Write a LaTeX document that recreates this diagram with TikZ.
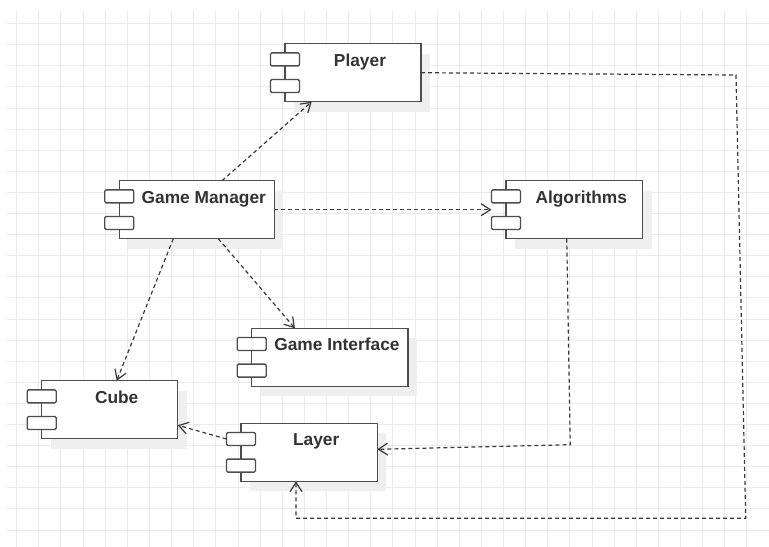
\documentclass[tikz,border=0pt]{standalone}
\usepackage{fontspec}
\newfontfamily\lblfont{Liberation Sans}
\usetikzlibrary{arrows.meta,calc}

\definecolor{gridc}{HTML}{EBEBEB}
\definecolor{shadec}{HTML}{EFEFEF}
\definecolor{edgec}{HTML}{4D4D4D}
\definecolor{inkc}{HTML}{333333}
\definecolor{depc}{HTML}{3A3A3A}

\tikzset{
  gridline/.style={draw=gridc, line width=0.75pt},
  compshade/.style={fill=shadec},
  compbox/.style={draw=edgec, fill=white, line width=1.1pt, rectangle,
    minimum height=43.5pt, inner sep=0pt, outer sep=0pt},
  pinbox/.style={draw=edgec, fill=white, line width=1pt, rectangle, rounded corners=1pt,
    minimum width=21.75pt, minimum height=9.75pt, inner sep=0pt, outer sep=0pt},
  complabel/.style={text=inkc, font=\lblfont\bfseries\fontsize{13}{15}\selectfont, inner sep=0pt},
  dep/.style={draw=depc, line width=0.9pt, dash pattern=on 3pt off 2.25pt,
    -{Straight Barb[length=7pt,width=9pt,line width=0.9pt]}},
}

% A UML component: shadow, body, two port tabs on the left edge and a bold label.
% #1 name, #2 left x, #3 top y, #4 width, #5 label (all in px)
\newcommand\umlcomp[5]{%
  \fill[compshade] (#2+9,#3+10) rectangle ++(#4,58);
  \node[compbox, minimum width=#4*0.75pt, anchor=north west] (#1) at (#2,#3) {};
  \node[pinbox] (#1-pa) at ($(#1.north west)+(0,15.7)$) {};
  \node[pinbox] (#1-pb) at ($(#1.north west)+(0,42.3)$) {};
  \node[complabel, anchor=base] (#1-lbl) at ($(#1.north west)+({7+#4/2},22.5)$) {#5};
}

\begin{document}
\begin{tikzpicture}[x=0.75pt, y=-0.75pt]
  \useasboundingbox (0,0) rectangle (769,547);
  \fill[white] (0,0) rectangle (769,547);

  % background grid
  \foreach \i in {0,...,33}
    \draw[gridline] ({16.7+22.13*\i},10) -- ({16.7+22.13*\i},547);
  \foreach \j in {0,...,24}
    \draw[gridline] (7,{23.6+21.1*\j}) -- (769,{23.6+21.1*\j});

  % components
  \umlcomp{player}{285}{43.7}{136}{Player}
  \umlcomp{gm}{119.3}{180.7}{155}{Game Manager}
  \umlcomp{alg}{506}{180.7}{136.5}{Algorithms}
  \umlcomp{gi}{251.7}{328.3}{156.5}{Game Interface}
  \umlcomp{cube}{41.7}{380.7}{136}{Cube}
  \umlcomp{layer}{241}{423.3}{136.3}{Layer}

  % bend points of the routed dependencies
  \coordinate (alg-bend) at ($(alg.south)+(-4,206)$);
  \coordinate (pl-bend1) at (736,75);
  \coordinate (pl-bend2) at (745.7,518.3);
  \coordinate (pl-bend3) at (296,518.3);

  % dependencies
  \draw[dep] ($(gm.north)+(25.2,0)$) -- ($(player.south)+(-41.3,0)$);
  \draw[dep] (gm.east) -- ($(alg.west)+(-14.5,0)$);
  \draw[dep] ($(gm.south)+(21.5,0)$) -- ($(gi.north)+(-35,0)$);
  \draw[dep] ($(gm.south)+(-23.5,0)$) -- ($(cube.north)+(7,0)$);
  \draw[dep] (layer-pa.west) -- ($(cube.east)+(0,15.5)$);
  \draw[dep] ($(alg.south)+(-7.5,0)$) -- (alg-bend) -- ($(layer.east)+(0,-3)$);
  \draw[dep] (player.east) -- (pl-bend1) -- (pl-bend2) -- (pl-bend3) -- (layer.south -| pl-bend3);
\end{tikzpicture}
\end{document}
